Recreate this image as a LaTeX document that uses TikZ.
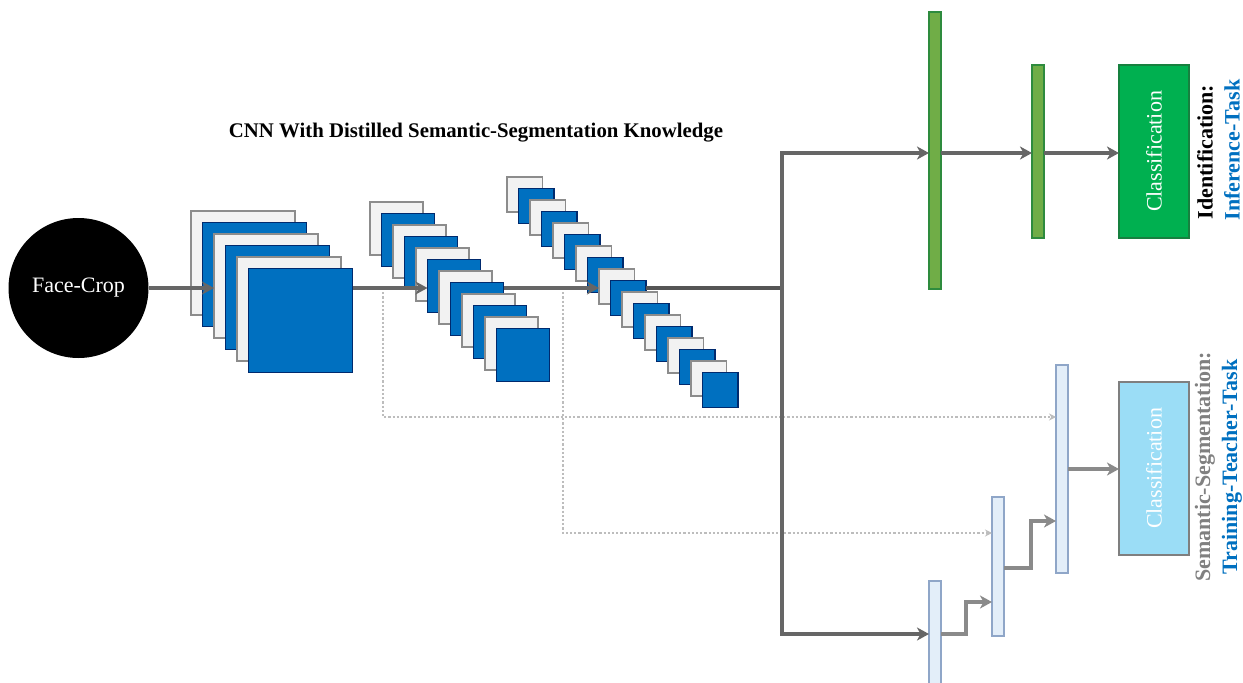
\documentclass[tikz,border=0pt]{standalone}
\usepackage{fontspec}
\setmainfont{Liberation Serif}
\usetikzlibrary{arrows.meta}
\definecolor{bluefill}{HTML}{0070C0}
\definecolor{blueedge}{HTML}{002A6E}
\definecolor{whitefill}{HTML}{F2F2F2}
\definecolor{whiteedge}{HTML}{8C8C8C}
\definecolor{greenbar}{HTML}{70AD47}
\definecolor{greenedge}{HTML}{2E8B3E}
\definecolor{greenbox}{HTML}{00B050}
\definecolor{greenboxedge}{HTML}{17803F}
\definecolor{lbar}{HTML}{E3EEF9}
\definecolor{lbaredge}{HTML}{8FA6C8}
\definecolor{lbox}{HTML}{9BDDF6}
\definecolor{lboxedge}{HTML}{7F7F7F}
\definecolor{arrdark}{HTML}{666666}
\definecolor{arrdeep}{HTML}{555555}
\definecolor{arrlight}{HTML}{8A8A8A}
\definecolor{dotgray}{HTML}{BDBDBD}
\definecolor{labelblue}{HTML}{0070C0}
\definecolor{labelgray}{HTML}{808080}
\tikzset{
  box/.style={draw, line width=1.6pt, inner sep=0pt, outer sep=0pt, anchor=north west},
  wsheet/.style={box, fill=whitefill, draw=whiteedge},
  bsheet/.style={box, fill=bluefill, draw=blueedge},
  gbar/.style={box, fill=greenbar, draw=greenedge, line width=1.2pt},
  lbarst/.style={box, fill=lbar, draw=lbaredge, line width=1.2pt},
  clsbox/.style={box, line width=1.6pt, text=white, font=\fontsize{22}{26}\selectfont},
  arr/.style={draw=arrdark, line width=4pt, line join=miter, -{Stealth[length=12pt,width=13pt,inset=3.5pt]}},
  arrl/.style={draw=arrlight, line width=4pt, line join=miter, -{Stealth[length=12pt,width=13pt,inset=3.5pt]}},
  plainline/.style={draw=arrdeep, line width=4.5pt},
  dots/.style={draw=dotgray, line width=2.2pt, dotted, -{Stealth[length=7pt,width=7pt]}},
  lab/.style={rotate=90, font=\bfseries\fontsize{22}{26}\selectfont, inner sep=0pt},
}
\begin{document}
\begin{tikzpicture}[x=1pt,y=-1pt]
\clip (0,0) rectangle (1243,683);
\useasboundingbox (0,0) rectangle (1243,683);

% title
\node[font=\bfseries\fontsize{20.8}{24}\selectfont] (title) at (476,133) {CNN With Distilled Semantic-Segmentation Knowledge};

% input
\node[circle, fill=black, minimum size=140pt, inner sep=0pt, text=white, font=\fontsize{22}{26}\selectfont] (face) at (78.5,288) {Face-Crop};
\coordinate (axis) at (0,288);

% dotted skip connection coordinates
\coordinate (d1) at (383,288);
\coordinate (d1b) at (383,417);
\coordinate (d2) at (563,288);
\coordinate (d2b) at (563,533);

% stack 1
\foreach \k in {0,...,5}{
  \ifodd\k\def\st{bsheet}\else\def\st{wsheet}\fi
  \node[\st, minimum width=104pt, minimum height=104pt] (s1-\k) at ({191+11.5*\k},{211+11.5*\k}) {};
}
% stack 2
\foreach \k in {0,...,11}{
  \ifodd\k\def\st{bsheet}\else\def\st{wsheet}\fi
  \node[\st, minimum width=53pt, minimum height=53pt] (s2-\k) at ({370+11.5*\k},{202+11.5*\k}) {};
}
% stack 3
\foreach \k in {0,...,17}{
  \ifodd\k\def\st{bsheet}\else\def\st{wsheet}\fi
  \node[\st, minimum width=35.5pt, minimum height=35pt] (s3-\k) at ({507+11.5*\k},{177+11.5*\k}) {};
}

% upper head
\node[gbar, minimum width=12pt, minimum height=277pt] (g1) at (929,12) {};
\node[gbar, minimum width=12pt, minimum height=173pt] (g2) at (1032,65) {};
\node[clsbox, fill=greenbox, draw=greenboxedge, minimum width=70pt, minimum height=173pt] (c1) at (1119,65) {};
\node[rotate=90, text=white, font=\fontsize{22}{26}\selectfont] (c1t) at (c1.center) {Classification};

% lower head
\node[lbarst, minimum width=12pt, minimum height=110pt] (b1) at (929,581) {};
\node[lbarst, minimum width=12pt, minimum height=139pt] (b2) at (992,497) {};
\node[lbarst, minimum width=12pt, minimum height=208pt] (b3) at (1056,365) {};
\node[clsbox, fill=lbox, draw=lboxedge, minimum width=70pt, minimum height=173pt] (c2) at (1119,382) {};
\node[rotate=90, text=white, font=\fontsize{22}{26}\selectfont] (c2t) at (c2.center) {Classification};

% junction coordinates
\coordinate (split) at (782,288);
\coordinate (top) at (782,153);
\coordinate (bot) at (782,634);

% dotted connectors
\draw[dots] (d1) -- (d1b) -- (d1b -| b3.west);
\draw[dots] (d2) -- (d2b) -- (d2b -| b2.west);

% main path
\draw[arr] (face.east) -- (face.east -| s1-2.west);
\draw[arr] (s1-5.east |- axis) -- (axis -| s2-5.west);
\draw[arr] (s2-7.east |- axis) -- (axis -| s3-8.west);
\draw[plainline] (s3-9.east |- axis) -- (split);
\draw[arr] (split) -- (top) -- (top -| g1.west);
\draw[arr] (split) -- (bot) -- (bot -| b1.west);

% upper head arrows
\draw[arr] (g1.east |- top) -- (top -| g2.west);
\draw[arr] (g2.east |- top) -- (top -| c1.west);

% lower head arrows
\coordinate (e1) at (966,634);
\coordinate (e2) at (966,602);
\coordinate (f1) at (1031,568);
\coordinate (f2) at (1031,521);
\coordinate (h1) at (0,469);
\draw[arrl] (b1.east |- bot) -- (e1) -- (e2) -- (e2 -| b2.west);
\draw[arrl] (b2.east |- f1) -- (f1) -- (f2) -- (f2 -| b3.west);
\draw[arrl] (b3.east |- h1) -- (h1 -| c2.west);

% side labels
\node[lab, text=black] (idl) at (1205,152) {Identification:};
\node[lab, text=labelblue] (inf) at (1232,150) {Inference-Task};
\node[lab, text=labelgray] (ssl) at (1205,467) {Semantic-Segmentation:};
\node[lab, text=labelblue] (ttl) at (1232,467) {Training-Teacher-Task};
\end{tikzpicture}
\end{document}
